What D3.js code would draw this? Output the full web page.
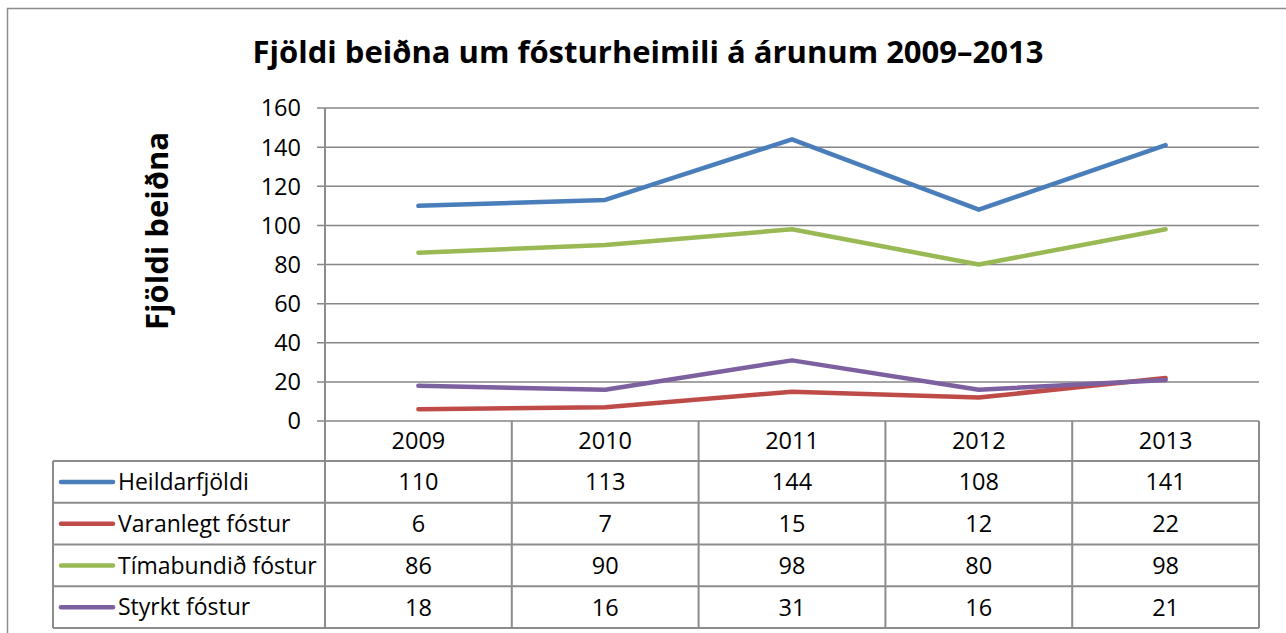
<!DOCTYPE html>
<html>
<head>
<meta charset="utf-8">
<script src="https://cdn.jsdelivr.net/npm/d3@7/dist/d3.min.js"></script>
<style>
  body { margin: 0; background: #fff; }
  text { font-family: "Open Sans", "Noto Sans", sans-serif; fill: #000; }
</style>
</head>
<body>
<script>
var years = ["2009", "2010", "2011", "2012", "2013"];
var seriesNames = ["Heildarfjöldi", "Varanlegt fóstur", "Tímabundið fóstur", "Styrkt fóstur"];
var heildarfjoldi = [110, 113, 144, 108, 141];
var varanlegt = [6, 7, 15, 12, 22];
var timabundid = [86, 90, 98, 80, 98];
var styrkt = [18, 16, 31, 16, 21];
var yTicks = [0, 20, 40, 60, 80, 100, 120, 140, 160];
var colors = ["#4a7ebb", "#be4b48", "#98b954", "#7d60a0"];

var series = [heildarfjoldi, varanlegt, timabundid, styrkt].map(function (v, i) {
    return { name: seriesNames[i], values: v, color: colors[i] };
});

var w = 1286, h = 633;
var plotLeft = 325, plotRight = 1259, plotTop = 108, plotBottom = 421;
var rowH = 41.75, headH = 40;
var legendLeft = 53;
var fs = "23.5px";

var svg = d3.select("body").append("svg")
    .attr("width", w)
    .attr("height", h);

// outer frame
svg.append("path")
    .attr("d", "M7.5," + h + "V8.5H" + w)
    .attr("fill", "none")
    .attr("stroke", "#8c8c8c")
    .attr("stroke-width", 1.5);

var x = d3.scaleBand().domain(years).range([plotLeft, plotRight]);
var y = d3.scaleLinear().domain([0, 160]).range([plotBottom, plotTop]);

// title
svg.append("text")
    .attr("x", 648)
    .attr("y", 63)
    .attr("text-anchor", "middle")
    .attr("font-size", "31px")
    .attr("font-weight", "bold")
    .text("Fjöldi beiðna um fósturheimili á árunum 2009–2013");

// y label
svg.append("text")
    .attr("transform", "translate(168,231) rotate(-90)")
    .attr("text-anchor", "middle")
    .attr("font-size", "31px")
    .attr("font-weight", "bold")
    .text("Fjöldi beiðna");

// gridlines
svg.append("g").selectAll("line")
    .data(yTicks)
    .enter()
    .append("line")
    .attr("x1", plotLeft - 8)
    .attr("x2", plotRight)
    .attr("y1", function (d) { return y(d); })
    .attr("y2", function (d) { return y(d); })
    .attr("stroke", "#868686")
    .attr("stroke-width", 1.5);

// tick labels
svg.append("g").selectAll("text")
    .data(yTicks)
    .enter()
    .append("text")
    .attr("x", 301)
    .attr("y", function (d) { return y(d); })
    .attr("dy", "0.36em")
    .attr("text-anchor", "end")
    .attr("font-size", fs)
    .text(function (d) { return d; });

// lines
var line = d3.line()
    .x(function (d, i) { return x(years[i]) + x.bandwidth() / 2; })
    .y(function (d) { return y(d); });

svg.append("g").selectAll("path")
    .data(series)
    .enter()
    .append("path")
    .attr("d", function (d) { return line(d.values); })
    .attr("fill", "none")
    .attr("stroke", function (d) { return d.color; })
    .attr("stroke-width", 4.5)
    .attr("stroke-linejoin", "round")
    .attr("stroke-linecap", "round");

// data table
var tableBottom = plotBottom + headH + rowH * series.length;
var grid = svg.append("g")
    .attr("stroke", "#8c8c8c")
    .attr("stroke-width", 2);

grid.append("line")
    .attr("x1", plotLeft).attr("x2", plotLeft)
    .attr("y1", plotTop).attr("y2", tableBottom);
grid.selectAll(".col")
    .data(years)
    .enter()
    .append("line")
    .attr("x1", function (d) { return x(d) + x.bandwidth(); })
    .attr("x2", function (d) { return x(d) + x.bandwidth(); })
    .attr("y1", plotBottom)
    .attr("y2", tableBottom);
grid.append("line")
    .attr("x1", legendLeft).attr("x2", legendLeft)
    .attr("y1", plotBottom + headH).attr("y2", tableBottom);

var rowLines = d3.range(series.length + 1).map(function (i) { return plotBottom + headH + i * rowH; });
grid.selectAll(".row")
    .data(rowLines)
    .enter()
    .append("line")
    .attr("x1", legendLeft)
    .attr("x2", plotRight)
    .attr("y1", function (d) { return d; })
    .attr("y2", function (d) { return d; });

// header
svg.append("g").selectAll("text")
    .data(years)
    .enter()
    .append("text")
    .attr("x", function (d) { return x(d) + x.bandwidth() / 2; })
    .attr("y", plotBottom + headH / 2)
    .attr("dy", "0.36em")
    .attr("text-anchor", "middle")
    .attr("font-size", fs)
    .text(function (d) { return d; });

// rows
var rows = svg.append("g").selectAll("g")
    .data(series)
    .enter()
    .append("g")
    .attr("transform", function (d, i) {
        return "translate(0," + (plotBottom + headH + i * rowH + rowH / 2) + ")";
    });

rows.append("line")
    .attr("x1", 61).attr("x2", 113)
    .attr("y1", 0).attr("y2", 0)
    .attr("stroke", function (d) { return d.color; })
    .attr("stroke-width", 4.5)
    .attr("stroke-linecap", "round");

rows.append("text")
    .attr("x", 118)
    .attr("dy", "0.36em")
    .attr("font-size", "23px")
    .text(function (d) { return d.name; });

rows.selectAll(".val")
    .data(function (d) { return d.values; })
    .enter()
    .append("text")
    .attr("x", function (d, i) { return x(years[i]) + x.bandwidth() / 2; })
    .attr("dy", "0.36em")
    .attr("text-anchor", "middle")
    .attr("font-size", fs)
    .text(function (d) { return d; });
</script>
</body>
</html>
